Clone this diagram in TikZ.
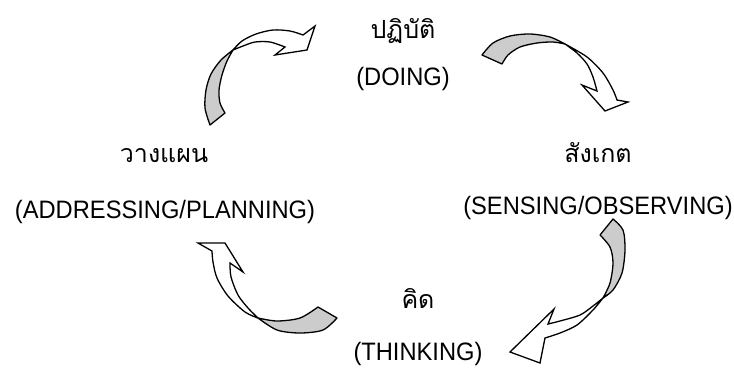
\documentclass[tikz,border=0pt]{standalone}
\usepackage{fontspec}
\setmainfont{Liberation Sans}
\newfontfamily\latinfont[FakeStretch=0.94]{Liberation Sans}
\newfontfamily\thaifont[Script=Thai]{Loma}
\tikzset{
  lbl/.style={font=\latinfont\fontsize{25.2}{28}\selectfont, inner sep=0pt, anchor=base},
  thai/.style={font=\thaifont\fontsize{25}{28}\selectfont, inner sep=0pt, anchor=base},
  backface/.style={fill=gray!40, draw=black, line width=1.3pt, line join=round},
  frontface/.style={fill=white, draw=black, line width=1.3pt, line join=miter},
}
\begin{document}
\begin{tikzpicture}[x=1pt,y=-1pt]
\useasboundingbox (0,0) rectangle (734,368);
% labels
\node[thai] (doTh) at (403,38) {ปฏิบัติ};
\node[lbl] (doEn) at (403,85) {(DOING)};
\node[thai] (plTh) at (164,162) {วางแผน};
\node[lbl] (plEn) at (165,218) {(ADDRESSING/PLANNING)};
\node[thai] (seTh) at (598,162) {สังเกต};
\node[lbl] (seEn) at (598,214) {(SENSING/OBSERVING)};
\node[thai] (thTh) at (418,308) {คิด};
\node[lbl] (thEn) at (418,360) {(THINKING)};
% top-left arrow
\draw[backface] (210,125) -- (225,113)
  -- plot[smooth] coordinates {(225,113) (220,103) (219,90) (222,75) (227,61) (233,50)}
  -- plot[smooth] coordinates {(233,50) (221,60) (211,74) (206,90) (205,108) (210,125)} -- cycle;
\draw[frontface] plot[smooth] coordinates {(233,50) (242,41) (256,34) (273,30) (290,31) (303,35)}
  -- (315,26) -- (307,50) -- (275,55) -- (285,47)
  -- plot[smooth] coordinates {(285,47) (270,42) (255,42) (243,46) (233,50)} -- cycle;
% top-right arrow
\draw[backface] (482,55) -- (502,64)
  -- plot[smooth] coordinates {(502,64) (508,55) (520,47) (537,43) (553,42) (565,44)}
  -- plot[smooth] coordinates {(565,44) (550,37) (530,34) (510,36) (493,43) (482,55)} -- cycle;
\draw[frontface] plot[smooth] coordinates {(565,44) (587,57) (603,73) (613,90) (617,100)}
  -- (628,102) -- (605,111) -- (582,85) -- (597,91)
  -- plot[smooth] coordinates {(597,91) (593,77) (587,64) (577,53) (565,44)} -- cycle;
% bottom-right arrow
\draw[backface] (600,235) -- (613,219)
  -- plot[smooth] coordinates {(613,219) (623,230) (625,250) (622,273) (613,290) (603,298)}
  -- plot[smooth] coordinates {(603,298) (610,283) (613,263) (610,247) (600,235)} -- cycle;
\draw[frontface] plot[smooth] coordinates {(603,298) (593,310) (577,325) (560,333) (545,338)}
  -- (540,363) -- (510,352) -- (554,309) -- (548,324)
  -- plot[smooth] coordinates {(548,324) (560,321) (580,315) (593,306) (603,298)} -- cycle;
% bottom-left arrow
\draw[frontface] (198,243) -- (225,243) -- (243,272) -- (230,263)
  -- plot[smooth] coordinates {(230,263) (231,277) (238,295) (248,308) (258,318)}
  -- plot[smooth] coordinates {(258,318) (245,312) (228,296) (217,278) (213,262) (212,251)} -- cycle;
\draw[backface] plot[smooth] coordinates {(258,318) (277,321) (300,318) (318,307)}
  -- (337,318)
  -- plot[smooth] coordinates {(337,318) (323,330) (300,333) (277,330) (258,318)} -- cycle;
\end{tikzpicture}
\end{document}
